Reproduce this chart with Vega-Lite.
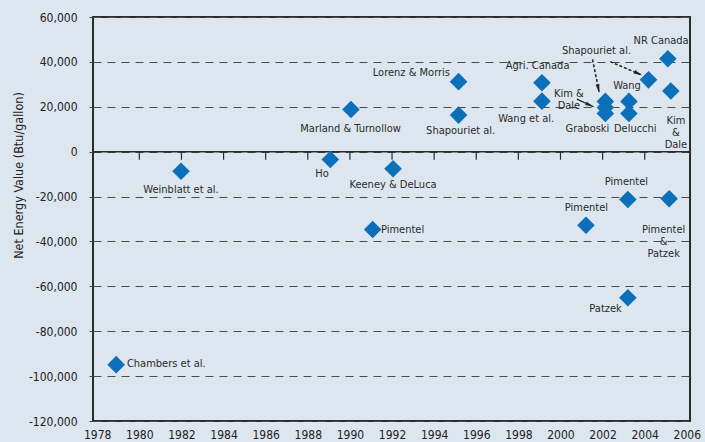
{
  "$schema": "https://vega.github.io/schema/vega-lite/v6.json",
  "width": 597,
  "height": 404,
  "autosize": {"type": "none"},
  "padding": {"left": 93, "top": 17, "right": 15, "bottom": 21},
  "background": "#dde6ef",
  "config": {
    "view": {"stroke": "#2b2b2b", "strokeWidth": 2},
    "font": "Liberation Sans Narrow, DejaVu Sans Condensed, Liberation Sans, sans-serif"
  },
  "datasets": {
    "studies": [
      {"study": "Chambers et al.", "year": 1978.90, "value": -94900},
      {"study": "Weinblatt et al.", "year": 1981.98, "value": -8700},
      {"study": "Ho", "year": 1989.07, "value": -3500},
      {"study": "Marland & Turnollow", "year": 1990.05, "value": 18800},
      {"study": "Pimentel", "year": 1991.08, "value": -34700},
      {"study": "Keeney & DeLuca", "year": 1992.05, "value": -7600},
      {"study": "Lorenz & Morris", "year": 1995.16, "value": 31200},
      {"study": "Shapouri et al.", "year": 1995.16, "value": 16300},
      {"study": "Agri. Canada", "year": 1999.12, "value": 30700},
      {"study": "Wang et al.", "year": 1999.12, "value": 22500},
      {"study": "Pimentel", "year": 2001.21, "value": -32800},
      {"study": "Shapouri et al.", "year": 2002.13, "value": 22400},
      {"study": "Kim & Dale", "year": 2002.13, "value": 19700},
      {"study": "Graboski", "year": 2002.13, "value": 17000},
      {"study": "Delucchi", "year": 2003.25, "value": 22400},
      {"study": "Delucchi", "year": 2003.25, "value": 17000},
      {"study": "Pimentel", "year": 2003.20, "value": -21300},
      {"study": "Patzek", "year": 2003.20, "value": -65100},
      {"study": "Wang", "year": 2004.18, "value": 32000},
      {"study": "NR Canada", "year": 2005.10, "value": 41400},
      {"study": "Kim & Dale", "year": 2005.24, "value": 27000},
      {"study": "Pimentel & Patzek", "year": 2005.16, "value": -21000}
    ],
    "labels": [
      {"text": "Chambers et al.", "lx": 1981.28, "ly": -94550},
      {"text": "Weinblatt et al.", "lx": 1981.98, "ly": -17160},
      {"text": "Ho", "lx": 1988.68, "ly": -10160},
      {"text": "Keeney & DeLuca", "lx": 1992.05, "ly": -14930},
      {"text": "Pimentel", "lx": 1992.50, "ly": -35000},
      {"text": "Marland & Turnollow", "lx": 1990.03, "ly": 9900},
      {"text": "Lorenz & Morris", "lx": 1992.92, "ly": 35170},
      {"text": "Shapouriet al.", "lx": 1995.26, "ly": 9140},
      {"text": "Agri. Canada", "lx": 1998.91, "ly": 38120},
      {"text": "Wang et al.", "lx": 1998.37, "ly": 14670},
      {"text": "Kim &\nDale", "lx": 2000.40, "ly": 25700},
      {"text": "Shapouriet al.", "lx": 2001.71, "ly": 44800},
      {"text": "Graboski", "lx": 2001.28, "ly": 9900},
      {"text": "Delucchi", "lx": 2003.55, "ly": 9900},
      {"text": "Wang", "lx": 2003.16, "ly": 29200},
      {"text": "NR Canada", "lx": 2004.78, "ly": 49260},
      {"text": "Kim\n&\nDale", "lx": 2005.48, "ly": 13860},
      {"text": "Pimentel", "lx": 2003.13, "ly": -13420},
      {"text": "Pimentel", "lx": 2001.23, "ly": -25320},
      {"text": "Pimentel\n&\nPatzek", "lx": 2004.90, "ly": -34770},
      {"text": "Patzek", "lx": 2002.14, "ly": -70040}
    ],
    "ticks": [
      {"year": 1980}, {"year": 1982}, {"year": 1984}, {"year": 1986},
      {"year": 1988}, {"year": 1990}, {"year": 1992}, {"year": 1994},
      {"year": 1996}, {"year": 1998}, {"year": 2000}, {"year": 2002},
      {"year": 2004}
    ],
    "arrows": [
      {"id": "kd", "x": 2000.78, "y": 23400, "x2": 2001.57, "y2": 20000},
      {"id": "s1", "x": 2001.52, "y": 41100, "x2": 2001.84, "y2": 26300},
      {"id": "s2", "x": 2002.36, "y": 40100, "x2": 2003.87, "y2": 34100}
    ]
  },
  "layer": [
    {
      "data": {"name": "studies"},
      "mark": {"type": "point", "shape": "diamond", "filled": true, "size": 300, "color": "#0b6fba", "opacity": 0},
      "encoding": {
        "x": {
          "field": "year", "type": "quantitative",
          "scale": {"domain": [1977.8, 2006.15], "nice": false, "zero": false},
          "axis": {
            "values": [1978, 1980, 1982, 1984, 1986, 1988, 1990, 1992, 1994, 1996, 1998, 2000, 2002, 2004, 2006],
            "format": "d", "grid": false, "ticks": false, "domain": false,
            "labelPadding": 8, "labelFontSize": 12, "labelColor": "#222",
            "labelFlush": false, "labelOverlap": false, "title": null
          }
        },
        "y": {
          "field": "value", "type": "quantitative",
          "scale": {"domain": [-120000, 60000], "nice": false},
          "axis": {
            "values": [60000, 40000, 20000, 0, -20000, -40000, -60000, -80000, -100000, -120000],
            "labelExpr": "(datum.value < 0 ? '-' : '') + format(abs(datum.value), ',')",
            "grid": true, "gridDash": [8, 6], "gridColor": "#4a4a4a", "gridWidth": 1, "gridOpacity": 1,
            "domain": false, "tickSize": 4, "tickColor": "#444",
            "labelPadding": 12, "labelFontSize": 12, "labelColor": "#222",
            "title": "Net Energy Value (Btu/gallon)", "titleFontSize": 12.5, "titleFontWeight": "normal",
            "titleColor": "#222", "titleX": -75, "titleY": 158, "titleAngle": -90,
            "titleAlign": "center", "titleBaseline": "middle"
          }
        }
      }
    },
    {
      "data": {"values": [{}]},
      "mark": {"type": "rule", "color": "#2b2b2b", "strokeWidth": 1.5},
      "encoding": {"y": {"datum": 0, "type": "quantitative"}}
    },
    {
      "data": {"name": "ticks"},
      "mark": {"type": "rule", "color": "#2b2b2b", "strokeWidth": 1.2},
      "encoding": {
        "x": {"field": "year", "type": "quantitative"},
        "y": {"datum": 0, "type": "quantitative"},
        "y2": {"datum": -3600}
      }
    },
    {
      "data": {"name": "studies"},
      "mark": {"type": "point", "shape": "diamond", "filled": true, "size": 310, "color": "#0b6fba", "opacity": 1},
      "encoding": {
        "x": {"field": "year", "type": "quantitative"},
        "y": {"field": "value", "type": "quantitative"}
      }
    },
    {
      "data": {"name": "labels"},
      "mark": {"type": "text", "align": "center", "baseline": "middle", "fontSize": 11, "color": "#2a2a2a", "lineBreak": "\n", "lineHeight": 12},
      "encoding": {
        "x": {"field": "lx", "type": "quantitative"},
        "y": {"field": "ly", "type": "quantitative"},
        "text": {"field": "text"}
      }
    },
    {
      "data": {"name": "arrows"},
      "transform": [{"filter": "datum.id == 'kd'"}],
      "mark": {"type": "rule", "color": "#222", "strokeWidth": 1.3},
      "encoding": {
        "x": {"field": "x", "type": "quantitative"},
        "y": {"field": "y", "type": "quantitative"},
        "x2": {"field": "x2"},
        "y2": {"field": "y2"}
      }
    },
    {
      "data": {"name": "arrows"},
      "transform": [{"filter": "datum.id != 'kd'"}],
      "mark": {"type": "rule", "color": "#222", "strokeWidth": 1.5, "strokeDash": [3, 2]},
      "encoding": {
        "x": {"field": "x", "type": "quantitative"},
        "y": {"field": "y", "type": "quantitative"},
        "x2": {"field": "x2"},
        "y2": {"field": "y2"}
      }
    },
    {
      "data": {"name": "arrows"},
      "transform": [{"filter": "datum.id != 's1'"}],
      "mark": {"type": "point", "shape": "M0,0L0.45,2L-0.45,2Z", "filled": true, "size": 70, "color": "#222", "opacity": 1, "angle": 114},
      "encoding": {
        "x": {"field": "x2", "type": "quantitative"},
        "y": {"field": "y2", "type": "quantitative"}
      }
    },
    {
      "data": {"name": "arrows"},
      "transform": [{"filter": "datum.id == 's1'"}],
      "mark": {"type": "point", "shape": "M0,0L0.45,2L-0.45,2Z", "filled": true, "size": 70, "color": "#222", "opacity": 1, "angle": 168},
      "encoding": {
        "x": {"field": "x2", "type": "quantitative"},
        "y": {"field": "y2", "type": "quantitative"}
      }
    }
  ]
}
